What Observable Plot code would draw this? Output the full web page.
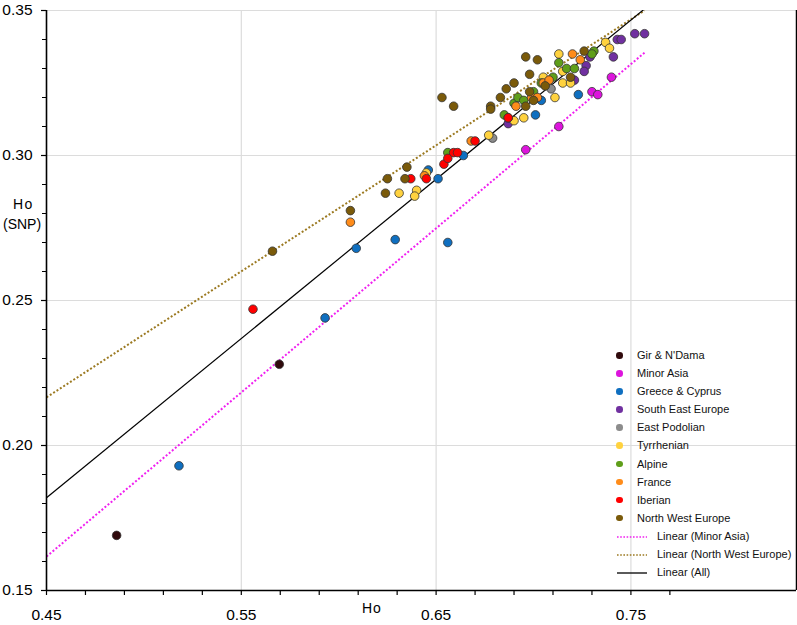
<!DOCTYPE html>
<html>
<head>
<meta charset="utf-8">
<script src="https://cdn.jsdelivr.net/npm/d3@7"></script>
<script src="https://cdn.jsdelivr.net/npm/@observablehq/plot@0.6"></script>
<style>
  body { margin: 0; background: white; font-family: "Liberation Sans", Arial, sans-serif; }
  #wrap { position: relative; width: 797px; height: 625px; }
  .lbl { position: absolute; font-size: 14px; color: #000; white-space: nowrap; }
  #legend { position: absolute; left: 612px; top: 346px; font-size: 11px; color: #111; }
  .row { position: relative; height: 18.1px; line-height: 18.1px; white-space: nowrap; }
</style>
</head>
<body>
<div id="wrap"></div>
<script>
// ---- Series (Ho, Ho(SNP)) ----
const girNdama = [[0.486, 0.169], [0.5695, 0.228]];
const minorAsia = [[0.696, 0.302], [0.713, 0.310], [0.730, 0.322], [0.733, 0.321], [0.740, 0.327]];
const greeceCyprus = [[0.518, 0.193], [0.593, 0.244], [0.609, 0.268], [0.629, 0.271], [0.656, 0.270],
  [0.651, 0.292], [0.646, 0.295], [0.664, 0.300], [0.701, 0.314], [0.704, 0.319], [0.723, 0.321]];
const southEastEurope = [[0.752, 0.342], [0.757, 0.342], [0.743, 0.340], [0.745, 0.340], [0.741, 0.334],
  [0.729, 0.334], [0.727, 0.331], [0.726, 0.329], [0.721, 0.326], [0.687, 0.311]];
const eastPodolian = [[0.679, 0.306], [0.709, 0.323]];
const tyrrhenian = [[0.631, 0.287], [0.640, 0.288], [0.639, 0.286], [0.645, 0.294], [0.677, 0.307],
  [0.690, 0.312], [0.695, 0.313], [0.711, 0.320], [0.715, 0.325], [0.719, 0.325], [0.715, 0.329],
  [0.705, 0.327], [0.713, 0.335], [0.737, 0.339], [0.739, 0.337]];
const alpine = [[0.656, 0.301], [0.685, 0.314], [0.687, 0.313], [0.690, 0.318], [0.692, 0.320],
  [0.695, 0.319], [0.700, 0.322], [0.704, 0.325], [0.710, 0.327], [0.713, 0.332], [0.717, 0.330],
  [0.721, 0.330], [0.731, 0.336], [0.730, 0.335]];
const france = [[0.606, 0.277], [0.644, 0.293], [0.668, 0.305], [0.691, 0.317], [0.699, 0.320],
  [0.702, 0.320], [0.705, 0.325], [0.708, 0.326], [0.720, 0.335], [0.724, 0.333]];
const iberian = [[0.556, 0.247], [0.637, 0.292], [0.645, 0.292], [0.654, 0.297], [0.656, 0.299],
  [0.659, 0.301], [0.661, 0.301], [0.670, 0.305], [0.687, 0.313]];
const northWestEurope = [[0.566, 0.267], [0.606, 0.281], [0.624, 0.287], [0.625, 0.292], [0.634, 0.292],
  [0.635, 0.296], [0.653, 0.320], [0.659, 0.317], [0.678, 0.317], [0.678, 0.316], [0.683, 0.320],
  [0.686, 0.323], [0.690, 0.325], [0.696, 0.334], [0.698, 0.328], [0.702, 0.333], [0.696, 0.317],
  [0.700, 0.319], [0.698, 0.322], [0.706, 0.324], [0.719, 0.327], [0.726, 0.336]];

const categories = ["Gir & N'Dama", "Minor Asia", "Greece & Cyprus", "South East Europe", "East Podolian",
  "Tyrrhenian", "Alpine", "France", "Iberian", "North West Europe"];
const seriesData = [girNdama, minorAsia, greeceCyprus, southEastEurope, eastPodolian,
  tyrrhenian, alpine, france, iberian, northWestEurope];
const colors = ["#300a0c", "#dd14dd", "#0f6fc0", "#7030a0", "#8c8c8c",
  "#ffd23f", "#5f9e1a", "#ff8c1a", "#ff0000", "#7a5a0a"];

// Trend lines: name, start x, end x, intercept at start x, slope
const trendNames = ["Linear (Minor Asia)", "Linear (North West Europe)", "Linear (All)"];
const trendX0 = [0.45, 0.45, 0.45];
const trendX1 = [0.757, 0.757, 0.757];
const trendY0 = [0.1617, 0.2166, 0.182];
const trendSlope = [0.566, 0.4345, 0.549];
const trendColors = ["#f020f0", "#9c7a22", "#000000"];
const trendDash = ["2,2", "2,2", "none"];
const trendWidth = [2, 2, 1.2];

// Axis ticks
const xMajor = [0.45, 0.55, 0.65, 0.75];
const xMinor = d3.range(0.45, 0.7701, 0.02);
const yMajor = [0.15, 0.20, 0.25, 0.30, 0.35];
const yMinor = d3.range(0.15, 0.3501, 0.01);
const xGrid = [0.55, 0.65, 0.75];
const yGrid = [0.20, 0.25, 0.30, 0.35];
const xDomain = [0.45, 0.835];
const yDomain = [0.15, 0.35];

// ---- Build tables ----
const points = seriesData.flatMap((s, i) => s.map(([x, y]) => ({x, y, group: categories[i]})));
const trends = trendNames.map((name, i) => [
  {x: trendX0[i], y: trendY0[i], name},
  {x: trendX1[i], y: trendY0[i] + trendSlope[i] * (trendX1[i] - trendX0[i]), name}
]);

const chart = Plot.plot({
  width: 797, height: 625,
  marginLeft: 46, marginRight: 1, marginTop: 10, marginBottom: 35,
  x: {domain: xDomain},
  y: {domain: yDomain},
  color: {domain: categories, range: colors},
  style: {fontFamily: "'Liberation Sans', Arial, sans-serif", fontSize: "15.5px", background: "white", overflow: "visible"},
  marks: [
    Plot.ruleX(xGrid, {stroke: "#dcdcdc", strokeWidth: 1.2}),
    Plot.ruleY(yGrid, {stroke: "#dcdcdc", strokeWidth: 1.2}),
    Plot.ruleX([xDomain[1]], {stroke: "#000", strokeWidth: 1.5}),
    ...trends.map((t, i) => Plot.line(t, {x: "x", y: "y", stroke: trendColors[i], strokeWidth: trendWidth[i],
      strokeDasharray: trendDash[i], strokeLinecap: "butt", clip: true})),
    Plot.dot(points, {x: "x", y: "y", fill: "group", r: 4.3, stroke: "#333", strokeWidth: 0.8}),
    Plot.ruleX([xDomain[0]], {stroke: "#000", strokeWidth: 1.6}),
    Plot.ruleY([yDomain[0]], {stroke: "#000", strokeWidth: 1.6}),
    Plot.axisY(yMinor, {tickSize: 4, tickFormat: () => "", label: null, stroke: "#000", strokeWidth: 1}),
    Plot.axisY(yMajor, {tickSize: 5, tickPadding: 9, tickFormat: d3.format(".2f"), label: null, fill: "#000", stroke: "#000", strokeWidth: 1.2}),
    Plot.axisX(xMinor, {tickSize: 5, tickPadding: 13, tickFormat: d => xMajor.some(m => Math.abs(m - d) < 1e-6) ? d3.format(".2f")(d) : "", label: null, fill: "#000", stroke: "#000", strokeWidth: 1.2})
  ]
});

const wrap = document.getElementById("wrap");
wrap.appendChild(chart);

// Axis titles
function addLabel(text, left, top) {
  const d = document.createElement("div");
  d.className = "lbl"; d.textContent = text;
  d.style.left = left + "px"; d.style.top = top + "px";
  wrap.appendChild(d);
  return d;
}
addLabel("Ho", 362, 600).style.letterSpacing = "1px";
addLabel("Ho", 13, 196).style.letterSpacing = "1.5px";
addLabel("(SNP)", 3, 216);

// Legend
const legend = document.createElement("div");
legend.id = "legend";
categories.forEach((c, i) => {
  const row = document.createElement("div");
  row.className = "row";
  row.innerHTML = `<span style="position:absolute;left:4px;top:6px;width:6.5px;height:6.5px;border-radius:50%;background:${colors[i]}"></span><span style="position:absolute;left:25px">${c.replace("&", "&amp;")}</span>`;
  legend.appendChild(row);
});
trendNames.forEach((n, i) => {
  const row = document.createElement("div");
  row.className = "row";
  row.innerHTML = `<svg style="position:absolute;left:5px;top:5px" width="32" height="10"><line x1="0" x2="30" y1="5" y2="5" stroke="${trendColors[i]}" stroke-width="${i === 2 ? 1.3 : 1.6}" stroke-dasharray="${i === 2 ? "none" : "1.6,1.6"}"/></svg><span style="position:absolute;left:45px">${n}</span>`;
  legend.appendChild(row);
});
wrap.appendChild(legend);
</script>
</body>
</html>
